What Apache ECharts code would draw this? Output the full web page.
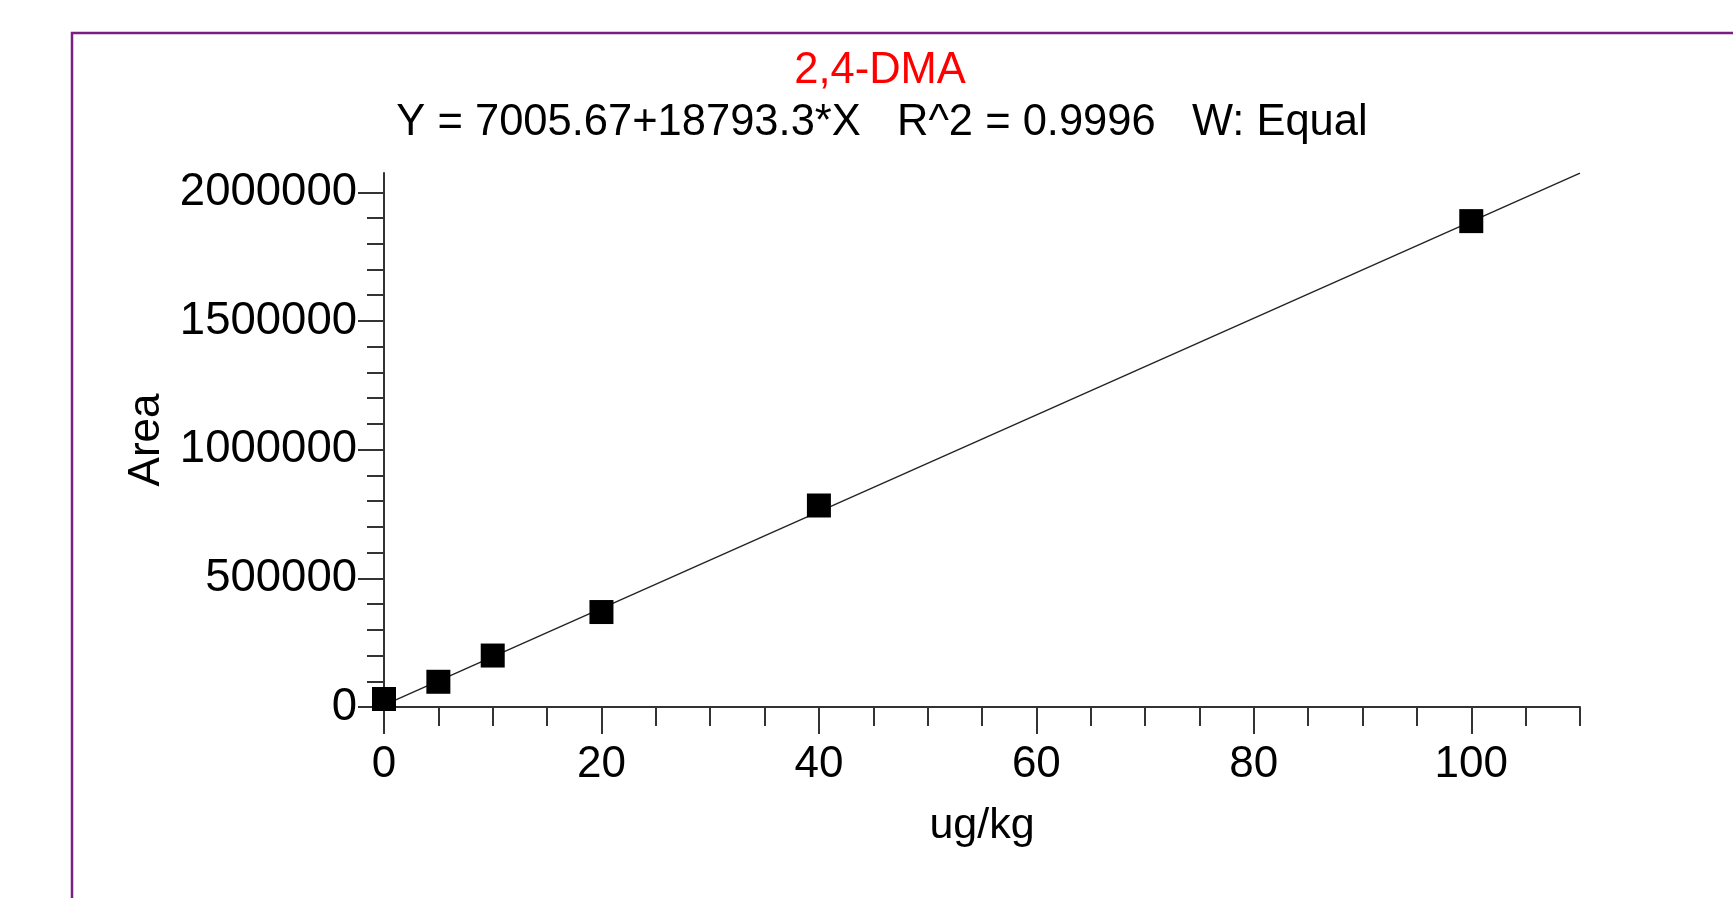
<!DOCTYPE html>
<html>
<head>
<meta charset="utf-8">
<script src="https://cdn.jsdelivr.net/npm/echarts@6/dist/echarts.min.js"></script>
<style>
html,body{margin:0;padding:0;background:#fff;}
#chart{width:1733px;height:898px;}
</style>
</head>
<body>
<div id="chart"></div>
<script>
// ---- data ----
const titleText = '2,4-DMA';
const subtitleText = 'Y = 7005.67+18793.3*X   R^2 = 0.9996   W: Equal';
const xName = 'ug/kg';
const yName = 'Area';
const concX = [0, 5, 10, 20, 40, 100];
const areaY = [31000, 98000, 200000, 369000, 783000, 1888000];
const fitX = [0, 110];
const fitY = [7005.67, 2074269];
const xMajorTicks = [0, 20, 40, 60, 80, 100];
const xMinorTicks = [0, 5, 10, 15, 20, 25, 30, 35, 40, 45, 50, 55, 60, 65, 70, 75, 80, 85, 90, 95, 100, 105, 110];
const yMajorTicks = [0, 500000, 1000000, 1500000, 2000000];
const yMinorTicks = [0, 100000, 200000, 300000, 400000, 500000, 600000, 700000, 800000, 900000, 1000000,
  1100000, 1200000, 1300000, 1400000, 1500000, 1600000, 1700000, 1800000, 1900000, 2000000];
const xRange = [0, 110];
const yRange = [0, 2075000];

const FONT = "'Liberation Sans', Arial, sans-serif";
const axisColor = '#333';

const chart = echarts.init(document.getElementById('chart'), null, {renderer: 'canvas'});

const points = concX.map((x, i) => [x, areaY[i]]);
const fitLine = fitX.map((x, i) => [x, fitY[i]]);

const option = {
  backgroundColor: '#fff',
  animation: false,
  title: [
    {
      text: titleText, left: 875, top: 44, textAlign: 'center',
      textStyle: {color: '#ff0000', fontSize: 43.5, fontWeight: 'normal', fontFamily: FONT}
    },
    {
      text: subtitleText, left: 877, top: 96, textAlign: 'center',
      textStyle: {color: '#000', fontSize: 43.5, fontWeight: 'normal', fontFamily: FONT}
    }
  ],
  graphic: [
    {
      type: 'rect', silent: true, z: 0,
      shape: {x: 72, y: 33, width: 3000, height: 3000},
      style: {fill: 'none', stroke: '#7a1f82', lineWidth: 2.5}
    }
  ],
  grid: {left: 384, right: 153, top: 173, bottom: 191, containLabel: false, outerBoundsMode: 'none'},
  xAxis: [
    {
      type: 'value', position: 'bottom', min: xRange[0], max: xRange[1],
      name: xName, nameLocation: 'middle', nameGap: 98,
      nameTextStyle: {color: '#000', fontSize: 43, fontFamily: FONT},
      axisLine: {show: true, onZero: false, lineStyle: {color: axisColor, width: 2}},
      axisTick: {show: true, inside: false, length: 19, customValues: xMinorTicks, lineStyle: {color: axisColor, width: 2}},
      axisLabel: {show: true, customValues: xMajorTicks, margin: 36, color: '#000', fontSize: 44, fontFamily: FONT,
        formatter: v => String(v)},
      splitLine: {show: false}
    },
    {
      type: 'value', position: 'bottom', min: xRange[0], max: xRange[1],
      axisLine: {show: false, onZero: false},
      axisTick: {show: true, inside: false, length: 27, customValues: xMajorTicks, lineStyle: {color: axisColor, width: 2}},
      axisLabel: {show: false},
      splitLine: {show: false}
    }
  ],
  yAxis: [
    {
      type: 'value', position: 'left', min: yRange[0], max: yRange[1],
      name: yName, nameLocation: 'middle', nameGap: 188, nameRotate: 90,
      nameTextStyle: {color: '#000', fontSize: 44, fontFamily: FONT},
      axisLine: {show: true, onZero: false, lineStyle: {color: axisColor, width: 2}},
      axisTick: {show: true, inside: false, length: 17, customValues: yMinorTicks, lineStyle: {color: axisColor, width: 2}},
      axisLabel: {show: true, customValues: yMajorTicks, margin: 27, color: '#000', fontSize: 45.5, fontFamily: FONT,
        formatter: v => String(v)},
      splitLine: {show: false}
    },
    {
      type: 'value', position: 'left', min: yRange[0], max: yRange[1],
      axisLine: {show: false, onZero: false},
      axisTick: {show: true, inside: false, length: 26, customValues: yMajorTicks, lineStyle: {color: axisColor, width: 2}},
      axisLabel: {show: false},
      splitLine: {show: false}
    }
  ],
  series: [
    {
      type: 'line', xAxisIndex: 0, yAxisIndex: 0, data: fitLine,
      showSymbol: false, symbol: 'none', silent: true, z: 2,
      lineStyle: {color: '#222', width: 1.4}
    },
    {
      type: 'scatter', xAxisIndex: 0, yAxisIndex: 0, data: points,
      symbol: 'rect', symbolSize: 24, z: 3,
      itemStyle: {color: '#000', opacity: 1}
    }
  ]
};
chart.setOption(option);
</script>
</body>
</html>
